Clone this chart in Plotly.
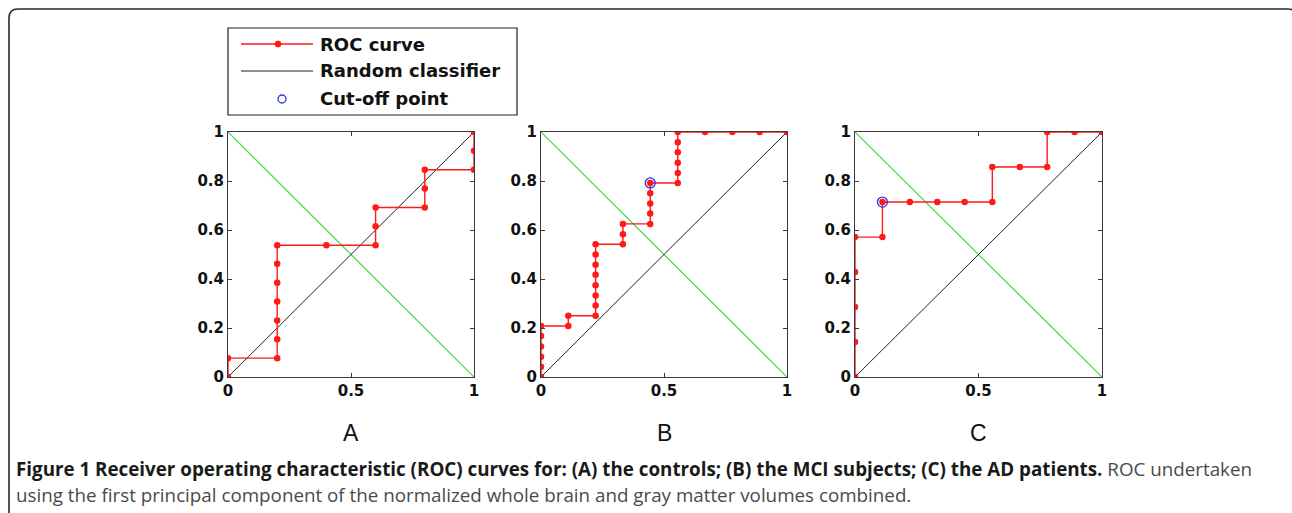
import plotly.graph_objects as go

W, H = 1292, 513

# ---------------- data ----------------
panel_labels = ["A", "B", "C"]

fpr_A = [0, 0, 0.2, 0.2, 0.2, 0.2, 0.2, 0.2, 0.2, 0.4, 0.6, 0.6, 0.6, 0.8, 0.8, 0.8, 1, 1, 1]
tpr_A = [0, 0.077, 0.077, 0.154, 0.231, 0.308, 0.385, 0.462, 0.538, 0.538, 0.538, 0.615, 0.692,
         0.692, 0.769, 0.846, 0.846, 0.923, 1]

fpr_B = [0, 0, 0, 0, 0, 0,
         0.111, 0.111,
         0.222, 0.222, 0.222, 0.222, 0.222, 0.222, 0.222, 0.222,
         0.333, 0.333, 0.333,
         0.444, 0.444, 0.444, 0.444, 0.444,
         0.556, 0.556, 0.556, 0.556, 0.556, 0.556,
         0.667, 0.778, 0.889, 1]
tpr_B = [0, 0.042, 0.083, 0.125, 0.167, 0.208,
         0.208, 0.25,
         0.25, 0.292, 0.333, 0.375, 0.417, 0.458, 0.5, 0.542,
         0.542, 0.583, 0.625,
         0.625, 0.667, 0.708, 0.75, 0.792,
         0.792, 0.833, 0.875, 0.917, 0.958, 1,
         1, 1, 1, 1]

fpr_C = [0, 0, 0, 0, 0, 0.111, 0.111, 0.222, 0.333, 0.444, 0.556, 0.556, 0.667, 0.778, 0.778, 0.889, 1]
tpr_C = [0, 0.143, 0.286, 0.429, 0.571, 0.571, 0.714, 0.714, 0.714, 0.714, 0.714, 0.857, 0.857,
         0.857, 1, 1, 1]

cutoff_x = [None, 0.444, 0.111]
cutoff_y = [None, 0.792, 0.714]

diag_x = [0, 1]
diag_y = [0, 1]
anti_y = [1, 0]

x_ticks = [0, 0.5, 1]
x_ticktext = ["0", "0.5", "1"]
y_ticks = [0, 0.2, 0.4, 0.6, 0.8, 1]
y_ticktext = ["0", "0.2", "0.4", "0.6", "0.8", "1"]

legend_labels = ["ROC curve", "Random classifier", "Cut-off point"]

caption_bold = "Figure 1 Receiver operating characteristic (ROC) curves for: (A) the controls; (B) the MCI subjects; (C) the AD patients."
caption_rest1 = " ROC undertaken"
caption_line2 = "using the first principal component of the normalized whole brain and gray matter volumes combined."

# ---------------- layout helpers ----------------
def px(x):
    return x / W

def py(y):
    return 1 - y / H

panel_px = [(228, 474), (541, 787), (855, 1102)]
top_px, bot_px = 132, 377

RED = "#ff1a1a"
GREEN = "#44d844"
BLUE = "#2f2fe8"
AXC = "#3a3a3a"

fig = go.Figure()
data = [(fpr_A, tpr_A), (fpr_B, tpr_B), (fpr_C, tpr_C)]

for i, (fx, ty) in enumerate(data):
    xa = "x" if i == 0 else f"x{i+1}"
    ya = "y" if i == 0 else f"y{i+1}"
    fig.add_trace(go.Scatter(x=diag_x, y=anti_y, mode="lines", line=dict(color=GREEN, width=1.2),
                             xaxis=xa, yaxis=ya, showlegend=False, hoverinfo="skip"))
    fig.add_trace(go.Scatter(x=diag_x, y=diag_y, mode="lines", line=dict(color="#222222", width=1),
                             xaxis=xa, yaxis=ya, showlegend=False, hoverinfo="skip"))
    fig.add_trace(go.Scatter(x=fx, y=ty, mode="lines+markers", line=dict(color=RED, width=1.4),
                             marker=dict(color=RED, size=6.5), xaxis=xa, yaxis=ya, showlegend=False))
    if cutoff_x[i] is not None:
        fig.add_trace(go.Scatter(x=[cutoff_x[i]], y=[cutoff_y[i]], mode="markers",
                                 marker=dict(symbol="circle-open", size=10, color=BLUE,
                                             line=dict(width=1.3, color=BLUE)),
                                 xaxis=xa, yaxis=ya, showlegend=False))

tickfont = dict(family="DejaVu Sans", size=15, color="#111111", weight="bold")
axis_common = dict(range=[0, 1], showline=True, linecolor=AXC, linewidth=1, mirror="ticks",
                   ticks="inside", ticklen=4, tickcolor=AXC, showgrid=False, zeroline=False,
                   tickfont=tickfont, fixedrange=True, automargin=False)

layout = dict(width=W, height=H, margin=dict(l=0, r=0, t=0, b=0, pad=0, autoexpand=False),
              paper_bgcolor="white", plot_bgcolor="white", showlegend=False)

for i, (l, r) in enumerate(panel_px):
    xk = "xaxis" if i == 0 else f"xaxis{i+1}"
    yk = "yaxis" if i == 0 else f"yaxis{i+1}"
    xa = "x" if i == 0 else f"x{i+1}"
    ya = "y" if i == 0 else f"y{i+1}"
    layout[xk] = dict(axis_common, domain=[px(l), px(r)], anchor=ya,
                      tickvals=x_ticks, ticktext=x_ticktext)
    layout[yk] = dict(axis_common, domain=[py(bot_px), py(top_px)], anchor=xa,
                      tickvals=y_ticks, ticktext=y_ticktext)

fig.update_layout(**layout)

annotations = []
# panel letters
for i, lab in enumerate(panel_labels):
    xa = "x" if i == 0 else f"x{i+1}"
    annotations.append(dict(text=lab, xref=f"{xa} domain", x=0.5, yref="paper", y=py(433),
                            xanchor="center", yanchor="middle", showarrow=False,
                            font=dict(family="Liberation Sans", size=23, color="#111111")))

# legend texts
leg_rows = [44, 71, 99]
for lab, yy in zip(legend_labels, leg_rows):
    annotations.append(dict(text=lab, xref="paper", yref="paper", x=px(318), y=py(yy),
                            xanchor="left", yanchor="middle", showarrow=False,
                            font=dict(family="DejaVu Sans", size=18, color="#111111", weight="bold")))

# caption (two lines)
annotations.append(dict(
    text=f"<b>{caption_bold}</b><span style='color:#4a4a4a'>{caption_rest1}</span>",
    xref="paper", yref="paper", x=px(14), y=py(469), xanchor="left", yanchor="middle",
    align="left", showarrow=False,
    font=dict(family="Open Sans", size=18.8, color="#1a1a1a")))
annotations.append(dict(
    text=caption_line2,
    xref="paper", yref="paper", x=px(14), y=py(494.5), xanchor="left", yanchor="middle",
    align="left", showarrow=False,
    font=dict(family="Open Sans", size=18.8, color="#4a4a4a")))

fig.update_layout(annotations=annotations)

shapes = []
# outer rounded border (extends beyond the right/bottom edges)
L, T, R, B = 9, 9, 1297, 530
rr = 9
path = (f"M {px(L)},{py(B)} L {px(L)},{py(T+rr)} Q {px(L)},{py(T)} {px(L+rr)},{py(T)} "
        f"L {px(R-rr)},{py(T)} Q {px(R)},{py(T)} {px(R)},{py(T+rr)} L {px(R)},{py(B)}")
shapes.append(dict(type="path", path=path, xref="paper", yref="paper",
                   line=dict(color="#2a2a2a", width=1.6)))
# legend box
shapes.append(dict(type="rect", xref="paper", yref="paper", x0=px(228), x1=px(517),
                   y0=py(115), y1=py(28), line=dict(color="#222222", width=1.2),
                   fillcolor="white", layer="above"))
# legend samples
shapes.append(dict(type="line", xref="paper", yref="paper", x0=px(241), x1=px(313),
                   y0=py(44), y1=py(44), line=dict(color=RED, width=1.4)))
shapes.append(dict(type="circle", xref="paper", yref="paper", xsizemode="pixel", ysizemode="pixel",
                   xanchor=px(278), yanchor=py(44), x0=-3, x1=3, y0=-3, y1=3,
                   fillcolor=RED, line=dict(color=RED, width=1)))
shapes.append(dict(type="line", xref="paper", yref="paper", x0=px(241), x1=px(313),
                   y0=py(71), y1=py(71), line=dict(color="#222222", width=1)))
shapes.append(dict(type="circle", xref="paper", yref="paper", xsizemode="pixel", ysizemode="pixel",
                   xanchor=px(282), yanchor=py(99), x0=-4, x1=4, y0=-4, y1=4,
                   line=dict(color=BLUE, width=1.3)))
fig.update_layout(shapes=shapes)

fig.write_html(
    "out.html",
    config={"displayModeBar": False, "responsive": False},
    post_script="document.body.style.margin='0';document.body.style.overflow='hidden';",
)
